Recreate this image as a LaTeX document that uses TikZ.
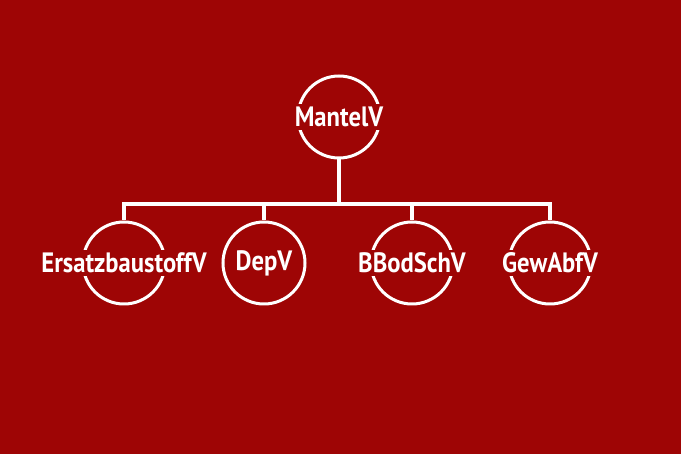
\documentclass[tikz,border=0pt]{standalone}
\usepackage{fontspec}
\setmainfont{PT Sans}
\definecolor{bg}{HTML}{9E0505}
\begin{document}
\begin{tikzpicture}[x=1pt,y=-1pt,
  ring/.style={circle,draw=white,line width=3pt,minimum size=82pt,inner sep=0pt},
  lbl/.style={fill=bg,text=white,inner xsep=2pt,inner ysep=3pt,font=\fontsize{28}{30}\selectfont\bfseries},
  conn/.style={draw=white,line width=3.2pt}]
\fill[bg] (0,0) rectangle (681,454);
\useasboundingbox (0,0) rectangle (681,454);
\node[ring] (m) at (339,117) {};
\node[ring] (e) at (124,263) {};
\node[ring] (d) at (264,263) {};
\node[ring] (b) at (412,263) {};
\node[ring] (g) at (550,263) {};
\coordinate (jl) at (124,204);
\coordinate (jr) at (550,204);
\draw[conn] (m.south) -- (m.south |- jl);
\draw[conn,line cap=rect] (jl) -- (jr);
\draw[conn] (e.north) -- (e.north |- jl);
\draw[conn] (d.north) -- (d.north |- jl);
\draw[conn] (b.north) -- (b.north |- jl);
\draw[conn] (g.north) -- (g.north |- jl);
\node[lbl] (mt) at (m) {\scalebox{0.88}[1]{MantelV}};
\node[lbl] (et) at (e) {\scalebox{0.88}[1]{ErsatzbaustoffV}};
\node[lbl] (dt) at (d) {\scalebox{0.88}[1]{DepV}};
\node[lbl] (bt) at (b) {\scalebox{0.88}[1]{BBodSchV}};
\node[lbl] (gt) at (g) {\scalebox{0.88}[1]{GewAbfV}};
\end{tikzpicture}
\end{document}
